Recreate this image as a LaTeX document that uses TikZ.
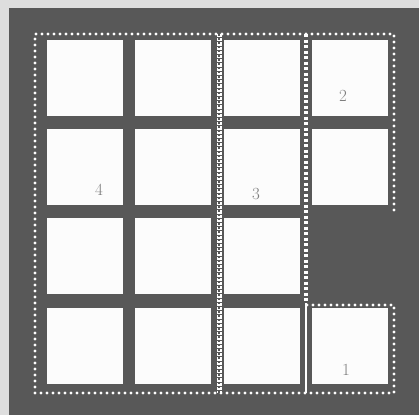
\documentclass[tikz,border=0pt]{standalone}
\usetikzlibrary{positioning}
\definecolor{bg}{RGB}{88,88,88}
\definecolor{strip}{RGB}{222,222,222}
\definecolor{paper}{RGB}{252,252,252}
\definecolor{ink}{RGB}{125,125,125}
\tikzset{
  cell/.style={fill=paper, draw=none, minimum width=76pt, minimum height=76pt, inner sep=0pt, anchor=north west},
  dotline/.style={white, line width=3.2pt, line cap=round, dash pattern=on 0pt off 6pt},
  denseline/.style={white, line width=3.4pt, dash pattern=on 3pt off 2.5pt},
  chain/.style={white, line width=5pt, dash pattern=on 3.2pt off 1pt},
  chaincore/.style={bg, line width=1.2pt, dash pattern=on 1.6pt off 2.6pt},
  solidline/.style={white, line width=2pt},
  lab/.style={text=ink, font=\fontsize{17}{17}\selectfont, inner sep=0pt}
}
\begin{document}
\begin{tikzpicture}[x=1pt,y=-1pt]
\useasboundingbox (0,0) rectangle (419,415);
\fill[strip] (0,0) rectangle (419,415);
\fill[bg] (9,8) rectangle (419,415);
% cells
\foreach \c/\x in {1/47,2/135,3/224,4/312}{
  \foreach \r/\y in {1/40,2/129,3/218,4/308}{
    \ifnum\c=4 \ifnum\r=3 \else
      \node[cell] (c\r\c) at (\x,\y) {};
    \fi\else
      \node[cell] (c\r\c) at (\x,\y) {};
    \fi
  }
}
% dotted borders
\coordinate (tl) at (35,34);
\coordinate (tr) at (394,34);
\coordinate (bl) at (35,393);
\coordinate (br) at (394,393);
\coordinate (r2) at (394,210);
\coordinate (v4t) at (306,34);
\coordinate (v4m) at (306,303);
\coordinate (v4b) at (306,393);
\coordinate (o1) at (307,305);
\coordinate (o1r) at (394,305);
\coordinate (wt) at (219,34);
\coordinate (wb) at (219,393);
\draw[dotline] (r2) -- (tr) -- (tl) -- (bl) -- (br) -- (o1r) -- (o1);
\draw[denseline] (v4t) -- (v4m);
\draw[solidline] (v4m) -- (v4b);
\draw[chain] (wt) -- (wb);
\draw[chaincore] (wt) -- (wb);
% labels
\node[lab] (l4) at (99,190) {4};
\node[lab] (l3) at (256,194) {3};
\node[lab] (l2) at (343,96) {2};
\node[lab] (l1) at (346,370) {1};
\end{tikzpicture}
\end{document}
